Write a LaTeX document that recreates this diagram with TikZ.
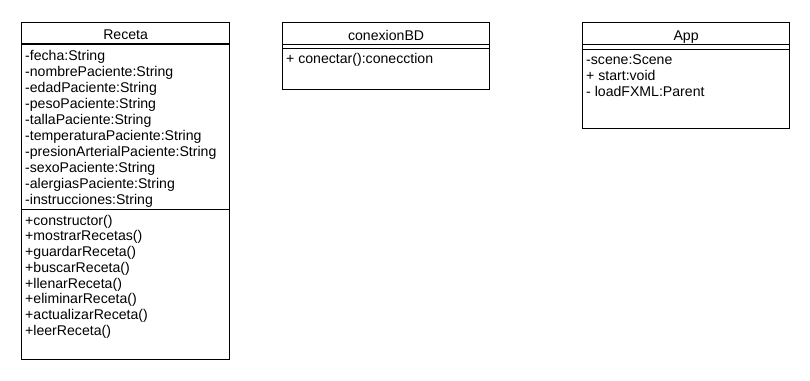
\documentclass[tikz,border=0pt]{standalone}
\usepackage{fontspec}
\setmainfont{Liberation Sans}
\usetikzlibrary{calc}
\begin{document}
\begin{tikzpicture}[x=1bp, y=-1bp,
  classbox/.style={draw=black, line width=1.2bp, fill=white, rectangle, inner sep=0pt, anchor=north west},
  sepline/.style={draw=black, line width=1.2bp},
  member/.style={anchor=base west, inner sep=0pt, font=\fontsize{14.1bp}{16bp}\selectfont},
  title/.style={anchor=base, inner sep=0pt, font=\fontsize{14.1bp}{16bp}\selectfont}]
  % canvas
  \useasboundingbox[fill=white] (0,0) rectangle (810,380);

  % ---------- Receta ----------
  \node[classbox, minimum width=208bp, minimum height=337bp] (receta) at (21,22) {};
  \node[title] (recetaT) at ($(receta.north)+(0,17.5)$) {Receta};
  \draw[sepline] ($(receta.north west)+(0,22)$) -- ($(receta.north east)+(0,22)$);
  \draw[sepline] ($(receta.north west)+(0,187.5)$) -- ($(receta.north east)+(0,187.5)$);
  \foreach \t [count=\i from 0] in {-fecha:String,-nombrePaciente:String,-edadPaciente:String,-pesoPaciente:String,-tallaPaciente:String,-temperaturaPaciente:String,-presionArterialPaciente:String,-sexoPaciente:String,-alergiasPaciente:String,-instrucciones:String}
    \node[member] (ra\i) at ($(receta.north west)+(4,38.9+16*\i)$) {\t};
  \foreach \t [count=\i from 0] in {+constructor(),+mostrarRecetas(),+guardarReceta(),+buscarReceta(),+llenarReceta(),+eliminarReceta(),+actualizarReceta(),+leerReceta()}
    \node[member] (rm\i) at ($(receta.north west)+(4,203.2+15.72*\i)$) {\t};

  % ---------- conexionBD ----------
  \node[classbox, minimum width=207bp, minimum height=67bp] (conex) at (282,22) {};
  \node[title] (conexT) at ($(conex.north)+(0,18)$) {conexionBD};
  \draw[sepline] ($(conex.north west)+(0,22.3)$) -- ($(conex.north east)+(0,22.3)$);
  \draw[sepline] ($(conex.north west)+(0,26.8)$) -- ($(conex.north east)+(0,26.8)$);
  \node[member] (cm0) at ($(conex.north west)+(4,41.7)$) {+ conectar():conecction};

  % ---------- App ----------
  \node[classbox, minimum width=207bp, minimum height=106bp] (app) at (582,22) {};
  \node[title] (appT) at ($(app.north)+(0,18)$) {App};
  \draw[sepline] ($(app.north west)+(0,22.8)$) -- ($(app.north east)+(0,22.8)$);
  \draw[sepline] ($(app.north west)+(0,27.3)$) -- ($(app.north east)+(0,27.3)$);
  \foreach \t [count=\i from 0] in {-scene:Scene,+ start:void,- loadFXML:Parent}
    \node[member] (am\i) at ($(app.north west)+(4,42+16.3*\i)$) {\t};
\end{tikzpicture}
\end{document}
